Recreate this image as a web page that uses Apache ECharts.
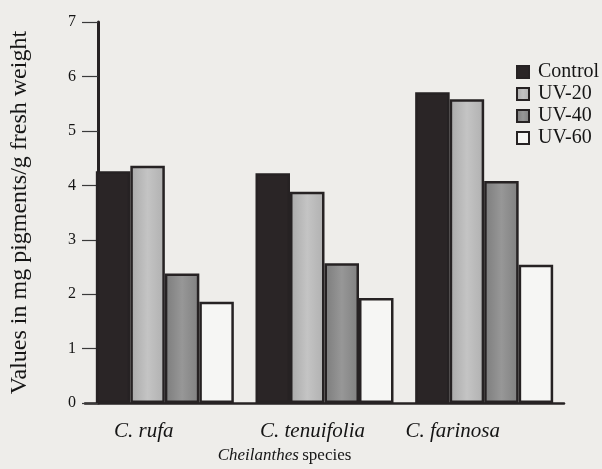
<!DOCTYPE html>
<html>
<head>
<meta charset="utf-8">
<script src="https://cdn.jsdelivr.net/npm/echarts@6/dist/echarts.min.js"></script>
<style>
html,body{margin:0;padding:0;background:#eeedea;}
#chart{width:602px;height:469px;}
</style>
</head>
<body>
<div id="chart"></div>
<script>
const categories = ['C. rufa', 'C. tenuifolia', 'C. farinosa'];
const seriesNames = ['Control', 'UV-20', 'UV-40', 'UV-60'];
const control = [4.26, 4.22, 5.71];
const uv20 = [4.36, 3.88, 5.58];
const uv40 = [2.38, 2.57, 4.08];
const uv60 = [1.86, 1.93, 2.54];
const yTicks = [0, 1, 2, 3, 4, 5, 6, 7];

const serif = '"Liberation Serif", "DejaVu Serif", serif';
const edge = '#262223';
const fills = [
  '#2a2526',
  {type:'linear',x:0,y:0,x2:1,y2:0,colorStops:[{offset:0,color:'#a9a9a9'},{offset:0.5,color:'#c4c4c4'},{offset:1,color:'#b0b0b0'}]},
  {type:'linear',x:0,y:0,x2:1,y2:0,colorStops:[{offset:0,color:'#7c7c7c'},{offset:0.5,color:'#979797'},{offset:1,color:'#808080'}]},
  '#f6f6f4'
];
const values = [control, uv20, uv40, uv60];
const labelStyle = {fontFamily: serif, fontStyle: 'italic', fontSize: 21, color: '#151515'};

const chart = echarts.init(document.getElementById('chart'));
chart.setOption({
  backgroundColor: '#eeedea',
  animation: false,
  grid: {left: 84, right: 38, top: 22, bottom: 63, containLabel: false},
  legend: {
    orient: 'vertical',
    left: 516,
    top: 62,
    padding: 0,
    itemWidth: 12,
    itemHeight: 12,
    itemGap: 2,
    icon: 'rect',
    textStyle: {fontFamily: serif, fontSize: 20, color: '#151515', padding: [0,0,0,4]},
    data: seriesNames
  },
  xAxis: {
    type: 'category',
    data: categories,
    axisLine: {show: true, lineStyle: {color: edge, width: 2.5}},
    axisTick: {show: false},
    axisLabel: {
      margin: 18,
      formatter: (v, i) => '{c' + i + '|' + v + '}',
      rich: {
        c0: Object.assign({padding: [0, 42, 0, 0]}, labelStyle),
        c1: Object.assign({padding: [0, 24, 0, 0]}, labelStyle),
        c2: Object.assign({padding: [0, 63, 0, 0]}, labelStyle)
      }
    },
    name: '{i|Cheilanthes} {n|species}',
    nameLocation: 'middle',
    nameGap: 41,
    nameTextStyle: {
      padding: [0, 80, 0, 0],
      rich: {
        i: {fontFamily: serif, fontStyle: 'italic', fontSize: 17, color: '#151515'},
        n: {fontFamily: serif, fontSize: 17, color: '#151515'}
      }
    }
  },
  yAxis: {
    type: 'value',
    min: 0,
    max: 7,
    interval: 1,
    offset: -13,
    splitLine: {show: false},
    axisLine: {show: true, lineStyle: {color: edge, width: 3}},
    axisTick: {show: true, length: 16, lineStyle: {color: '#3a3a3a', width: 1.2}},
    axisLabel: {fontFamily: serif, fontSize: 16, color: '#151515', margin: 22,
      formatter: v => yTicks.indexOf(v) >= 0 ? String(v) : ''},
    name: 'Values in mg pigments/g fresh weight',
    nameLocation: 'middle',
    nameGap: 66,
    nameRotate: 90,
    nameTextStyle: {fontFamily: serif, fontSize: 24, color: '#151515'}
  },
  series: seriesNames.map((n, i) => ({
    name: n,
    type: 'bar',
    data: values[i],
    barWidth: 34.5,
    barGap: '0%',
    itemStyle: {color: fills[i], borderColor: edge, borderWidth: 2.5}
  }))
});
</script>
</body>
</html>
